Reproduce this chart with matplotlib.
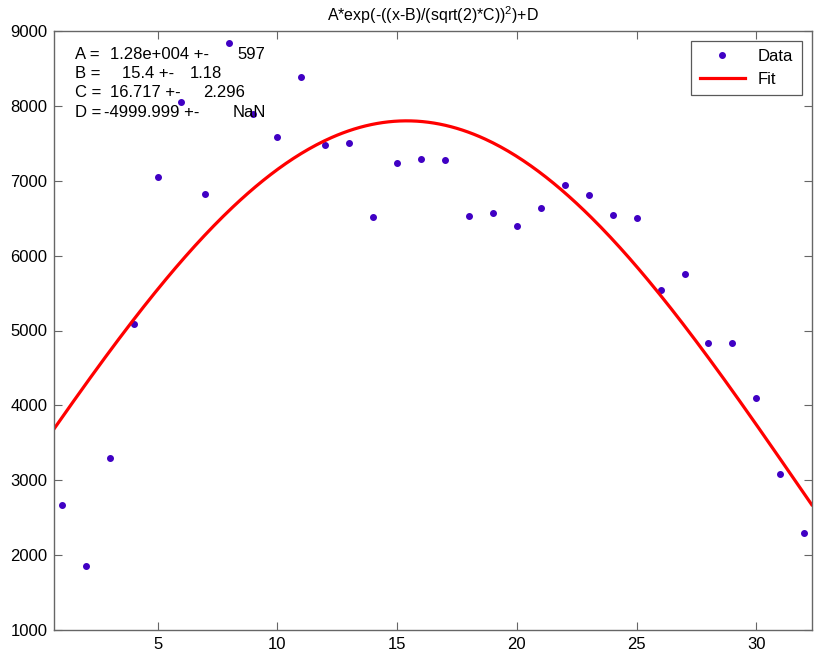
import numpy as np
import matplotlib
matplotlib.use("Agg")
from matplotlib import pyplot as plt

# data
x_data = list(range(1, 33))
y_data = [2667, 1852, 3295, 5082, 7047, 8050, 6829, 8844, 7885, 7587,
          8384, 7475, 7501, 6512, 7239, 7293, 7283, 6535, 6566, 6392,
          6642, 6949, 6806, 6544, 6499, 5545, 5750, 4833, 4833, 4092,
          3090, 2297]

# fit parameters shown on the chart
params = ["A", "B", "C", "D"]
values = ["1.28e+004", "15.4", "16.717", "-4999.999"]
errors = ["597", "1.18", "2.296", "NaN"]
A, B, C, D = 1.28e4, 15.4, 16.717, -4999.999

x_ticks = [5, 10, 15, 20, 25, 30]
y_ticks = [1000, 2000, 3000, 4000, 5000, 6000, 7000, 8000, 9000]

plt.rcParams["font.family"] = ["Liberation Sans", "DejaVu Sans"]
plt.rcParams["mathtext.fontset"] = "custom"
plt.rcParams["mathtext.rm"] = "Liberation Sans"
plt.rcParams["mathtext.it"] = "Liberation Sans"

W, H = 815, 656
ax_l, ax_r, ax_t, ax_b = 54.3, 811.7, 31, 630

fig = plt.figure(figsize=(W / 100, H / 100), dpi=100)
ax = fig.add_axes([ax_l / W, (H - ax_b) / H, (ax_r - ax_l) / W, (ax_b - ax_t) / H])

pad = 0.01 * (x_data[-1] - x_data[0])
x_fit = np.linspace(x_data[0] - pad, x_data[-1] + pad, 400)
y_fit = A * np.exp(-((x_fit - B) / (np.sqrt(2) * C)) ** 2) + D

ax.plot(x_data, y_data, ".", color="#4000c4", markersize=8, label="Data")
ax.plot(x_fit, y_fit, "-", color="#ff0000", linewidth=2.3, label="Fit")

ax.set_xlim(x_data[0] - pad, x_data[-1] + pad)
ax.set_ylim(1000, 9000)
ax.set_xticks(x_ticks)
ax.set_yticks(y_ticks)
ax.tick_params(direction="in", length=6, width=0.8, color="0.4",
               labelsize=12, top=True, right=True, pad=5)
for s in ax.spines.values():
    s.set_color("0.4")
    s.set_linewidth(1.0)

ax.set_title(r"A*exp(-((x-B)/(sqrt(2)*C))$^2$)+D", fontsize=11.5, pad=7)

# parameter block, columns placed in pixels like the original
def px(x, y):
    return (x - ax_l) / (ax_r - ax_l), 1 - (y - ax_t) / (ax_b - ax_t)

value_x = [110, 121.7, 110, 104]
error_x = [237.7, 189.3, 203, 233]
for i, (p, v, e) in enumerate(zip(params, values, errors)):
    yb = 58.7 + i * 19.3
    for xx, s in [(75, f"{p} ="), (value_x[i], f"{v} +-"), (error_x[i], e)]:
        ax.text(*px(xx, yb), s, transform=ax.transAxes, fontsize=12, va="baseline")

leg = ax.legend(loc="upper right", fancybox=False, edgecolor="0.35", framealpha=1,
                fontsize=12, handlelength=2.7, borderaxespad=0.6, labelspacing=0.45,
                borderpad=0.5, markerscale=1.0)
leg.get_frame().set_linewidth(0.9)

fig.savefig("out.png", dpi=100)
